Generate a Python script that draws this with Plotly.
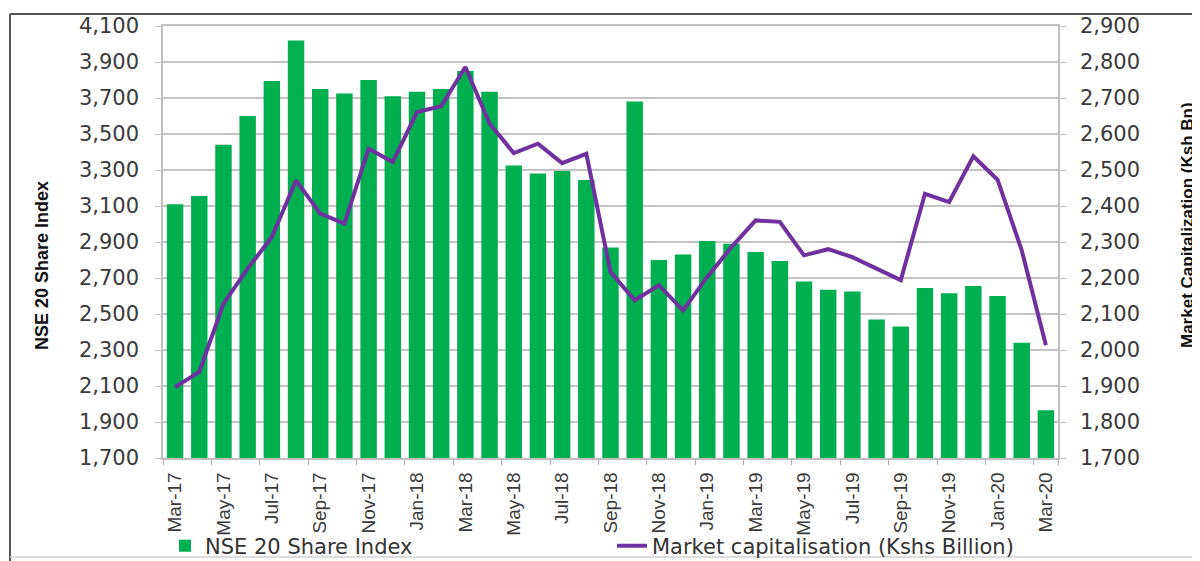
import plotly.graph_objects as go

months = ["Mar-17","Apr-17","May-17","Jun-17","Jul-17","Aug-17","Sep-17","Oct-17","Nov-17","Dec-17",
          "Jan-18","Feb-18","Mar-18","Apr-18","May-18","Jun-18","Jul-18","Aug-18","Sep-18","Oct-18",
          "Nov-18","Dec-18","Jan-19","Feb-19","Mar-19","Apr-19","May-19","Jun-19","Jul-19","Aug-19",
          "Sep-19","Oct-19","Nov-19","Dec-19","Jan-20","Feb-20","Mar-20"]

nse20 = [3110, 3155, 3440, 3600, 3795, 4020, 3750, 3725, 3800, 3710,
         3735, 3750, 3850, 3735, 3325, 3280, 3295, 3245, 2870, 3680,
         2800, 2830, 2905, 2890, 2845, 2795, 2680, 2635, 2625, 2470,
         2430, 2645, 2615, 2655, 2600, 2340, 1965]

mcap = [1897, 1939, 2129, 2226, 2314, 2471, 2379, 2351, 2559, 2522,
        2661, 2677, 2786, 2629, 2547, 2573, 2519, 2545, 2217, 2138,
        2180, 2110, 2203, 2286, 2360, 2356, 2263, 2280, 2258, 2226,
        2194, 2434, 2411, 2538, 2473, 2277, 2013]

left_ticks = list(range(1700, 4101, 200))
right_ticks = list(range(1700, 2901, 100))
x_ticks = months[::2]

# page has an 8px body margin; figure is sized to fill the rest of the window
OFF = 8
W, H = 1200 - OFF, 561 - OFF
# plot-area geometry in page px
L, R, T, B = 163, 1058, 26, 458
pw, ph = R - L, B - T

def px(x):
    return (x - L) / pw

def py(y):
    return (B - y) / ph

fig = go.Figure()
fig.add_trace(go.Bar(
    x=months, y=nse20, name="NSE 20 Share Index",
    marker=dict(color="#00B050", line=dict(width=0)),
    yaxis="y", legend="legend"))
fig.add_trace(go.Scatter(
    x=months, y=mcap, name="Market capitalisation (Kshs Billion)",
    mode="lines", line=dict(color="#7030A0", width=4),
    yaxis="y2", legend="legend2"))

tickfont = dict(family="DejaVu Sans, Liberation Sans, Arial", size=21, color="#3a3a3a")
legfont = dict(family="DejaVu Sans, Liberation Sans, Arial", size=21, color="#333")

fig.update_layout(
    width=W, height=H,
    margin=dict(l=L - OFF, r=W - (R - OFF), t=T - OFF, b=H - (B - OFF), autoexpand=False),
    paper_bgcolor="white", plot_bgcolor="white",
    bargap=0.32,
    showlegend=True,
    legend=dict(x=px(165), xanchor="left", y=py(546), yanchor="middle",
                font=legfont, bgcolor="rgba(0,0,0,0)", itemwidth=30),
    legend2=dict(x=px(612), xanchor="left", y=py(546), yanchor="middle",
                 font=legfont, bgcolor="rgba(0,0,0,0)", itemwidth=30),
    xaxis=dict(type="category", tickvals=x_ticks, ticktext=x_ticks, tickangle=-90,
               tickfont=dict(family="Liberation Sans, Arial", size=19, color="#3a3a3a"),
               showgrid=False, showline=True, linecolor="#BFBFBF", linewidth=1.5, mirror=True,
               ticks="outside", ticklen=5, tickcolor="#C8A0A8", tickson="boundaries",
               ticklabelstandoff=5,
               range=[-0.5, len(months) - 0.5]),
    yaxis=dict(range=[1700, 4100], tickvals=left_ticks, tickformat=",",
               tickfont=tickfont, showgrid=True, gridcolor="#C4C4C4", gridwidth=1.5,
               showline=True, linecolor="#BFBFBF", linewidth=1.5,
               ticks="outside", ticklen=6, tickcolor="#BFBFBF", zeroline=False,
               ticklabelstandoff=12),
    yaxis2=dict(range=[1700, 2900], tickvals=right_ticks, tickformat=",",
                overlaying="y", side="right", tickfont=tickfont, showgrid=False,
                showline=True, linecolor="#BFBFBF", linewidth=1.5,
                ticks="outside", ticklen=6, tickcolor="#BFBFBF", zeroline=False,
                ticklabelstandoff=10),
    annotations=[
        dict(text="<b>NSE 20 Share Index</b>", xref="paper", yref="paper",
             x=px(42), y=py(266), textangle=-90, showarrow=False,
             xanchor="center", yanchor="middle",
             font=dict(family="Liberation Sans Narrow, Arial Narrow, Liberation Sans", size=18, color="#111")),
        dict(text="<b>Market Capitalization (Ksh Bn)</b>", xref="paper", yref="paper",
             x=px(1187), y=py(225), textangle=-90, showarrow=False,
             xanchor="center", yanchor="middle",
             font=dict(family="Liberation Sans Narrow, Arial Narrow, Liberation Sans", size=17, color="#111")),
    ],
    shapes=[
        dict(type="line", xref="paper", yref="paper", x0=px(10), x1=px(1210), y0=py(14), y1=py(14),
             line=dict(color="#555", width=2)),
        dict(type="line", xref="paper", yref="paper", x0=px(10), x1=px(10), y0=py(14), y1=py(565),
             line=dict(color="#555", width=2)),
        dict(type="line", xref="paper", yref="paper", x0=px(10), x1=px(1210), y0=py(557), y1=py(557),
             line=dict(color="#D0D0D0", width=1.5)),
    ],
)

fig.write_html("out.html")
